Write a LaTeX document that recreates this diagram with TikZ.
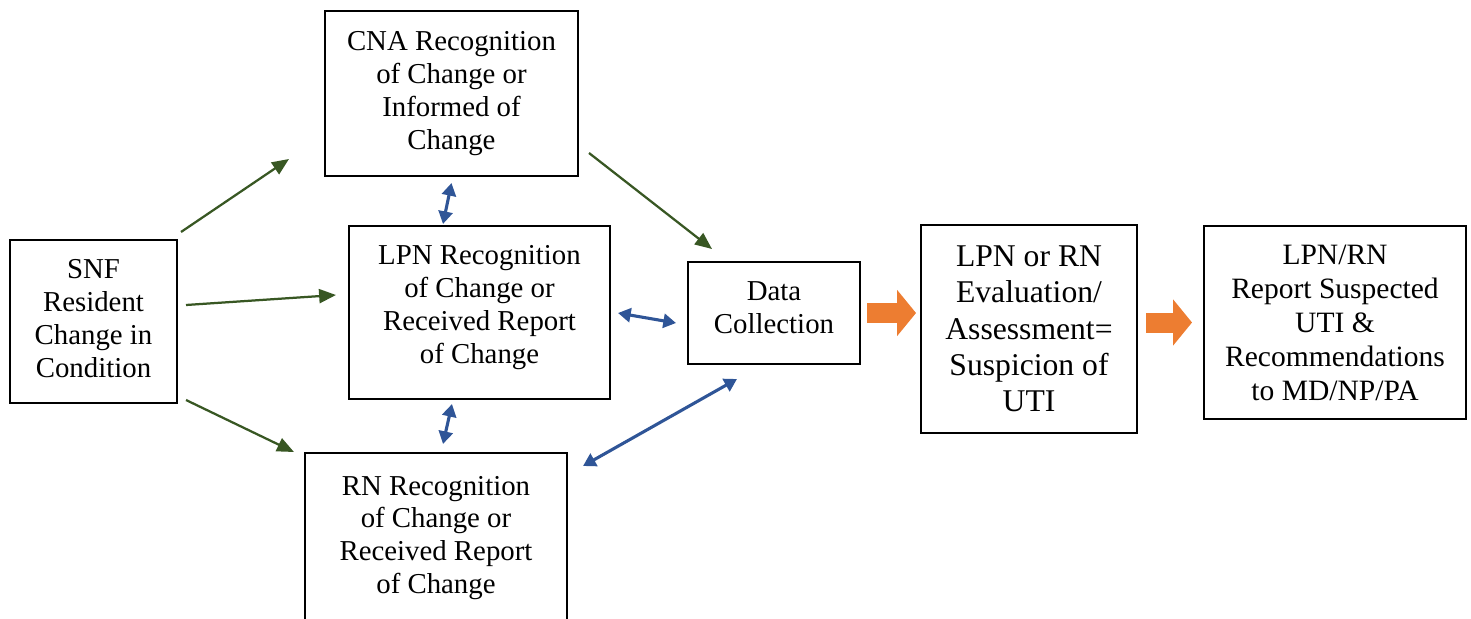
\documentclass[tikz,border=0pt]{standalone}
\usepackage{fontspec}
\setmainfont{Liberation Serif}
\usepackage{tikz}
\usetikzlibrary{arrows.meta}
\definecolor{FlowGreen}{HTML}{385723}
\definecolor{FlowBlue}{HTML}{2F5597}
\definecolor{FlowOrange}{HTML}{ED7D31}
\tikzset{
  stepbox/.style={
    draw,
    line width=1.4pt,
    align=center,
    inner sep=4pt,
    font=\fontsize{20.5}{23.4}\selectfont
  },
  evalbox/.style={
    stepbox,
    font=\fontsize{22.5}{25.8}\selectfont
  },
  reportbox/.style={
    stepbox,
    font=\fontsize{21}{24.2}\selectfont
  },
  greenarrow/.style={-{Triangle[length=12pt,width=10pt]}, FlowGreen, line width=1.6pt},
  bluearrow/.style={{Triangle[length=9pt,width=10pt]}-{Triangle[length=9pt,width=10pt]}, FlowBlue, line width=2.2pt},
  blockarrow/.style={-{Triangle[length=0.47cm,width=1.15cm,line width=0pt]}, FlowOrange, line width=0.5cm}
}

\begin{document}
\begin{tikzpicture}[x=0.025cm, y=-0.025cm]
  \clip (0,0) rectangle (1471,618);
  \node[stepbox, minimum width=4.175cm, minimum height=4.075cm, text depth=0.15cm] (snf) at (93.5,321.5)
    {SNF\\Resident\\Change in\\Condition};
  \node[stepbox, minimum width=6.325cm, minimum height=4.125cm] (cna) at (451.5,93.5)
    {CNA Recognition\\of Change or\\Informed of\\Change};
  \node[stepbox, minimum width=6.525cm, minimum height=4.325cm, text depth=0.4cm] (lpn) at (479.5,312.5)
    {LPN Recognition\\of Change or\\Received Report\\of Change};
  \node[stepbox, minimum width=6.55cm, minimum height=4.25cm] (rn) at (436,538)
    {RN Recognition\\of Change or\\Received Report\\of Change};
  \node[stepbox, minimum width=4.3cm, minimum height=2.55cm, text depth=0.25cm] (data) at (774,313)
    {Data\\Collection};
  \node[evalbox, minimum width=5.4cm, minimum height=5.2cm] (eval) at (1029,329)
    {LPN or RN\\Evaluation/\\Assessment=\\Suspicion of\\UTI};
  \node[reportbox, minimum width=6.55cm, minimum height=4.825cm] (report) at (1335,322.5)
    {LPN/RN\\Report Suspected\\UTI \&\\Recommendations\\to MD/NP/PA};
  \draw[greenarrow] ([shift={(3,-7)}]snf.north east) -- ([shift={(-35,-18)}]cna.south west);
  \draw[greenarrow] ([shift={(8,-16.5)}]snf.east) -- ([shift={(-12,-17.5)}]lpn.west);
  \draw[greenarrow] ([shift={(8,-4)}]snf.south east) -- ([shift={(-10,0)}]rn.north west);
  \draw[greenarrow] ([shift={(10,-24)}]cna.south east) -- ([shift={(25,-12)}]data.north west);
  \draw[bluearrow] ([shift={(0,6)}]cna.south) -- ([shift={(-36.5,-1)}]lpn.north);
  \draw[bluearrow] ([shift={(-27.5,4)}]lpn.south) -- ([shift={(7,-8)}]rn.north);
  \draw[bluearrow] ([shift={(7,0.5)}]lpn.east) -- ([shift={(-11,10)}]data.west);
  \draw[bluearrow] ([shift={(15,14)}]rn.north east) -- ([shift={(-37,14)}]data.south);
  \draw[blockarrow] ([xshift=0.15cm]data.east) -- ([xshift=-0.1cm]data.east -| eval.west);
  \draw[blockarrow] ([xshift=0.2cm]eval.east |- report.west) -- ([xshift=-0.275cm]report.west);
\end{tikzpicture}
\end{document}
